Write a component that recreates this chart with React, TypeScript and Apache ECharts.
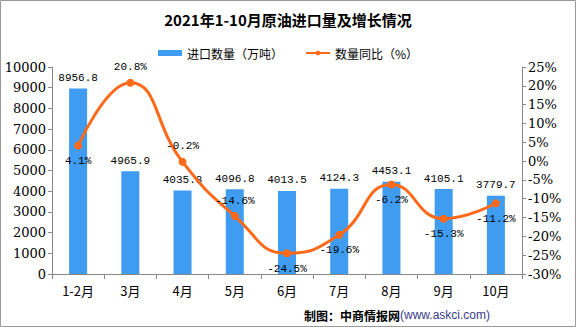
import React, { useEffect, useRef } from "react";
import * as echarts from "echarts";

const categories = ["1-2月", "3月", "4月", "5月", "6月", "7月", "8月", "9月", "10月"];
const importVolume = [8956.8, 4965.9, 4035.8, 4096.8, 4013.5, 4124.3, 4453.1, 4105.1, 3779.7];
const yoyGrowth = [4.1, 20.8, -0.2, -14.6, -24.5, -19.6, -6.2, -15.3, -11.2];
const growthLabelPos = ["bottom", "top", "top", "top", "bottom", "bottom", "bottom", "bottom", "bottom"];

const serif = "'DejaVu Serif', 'Noto Sans CJK SC', serif";
const mono = "'Liberation Mono', 'DejaVu Sans Mono', monospace";
const cjk = "'Noto Sans CJK SC', sans-serif";

export default function App() {
  const ref = useRef<HTMLDivElement>(null);
  useEffect(() => {
    document.body.style.margin = "0";
    const chart = echarts.init(ref.current!, null, { renderer: "svg" });
    chart.setOption({
      animation: false,
      backgroundColor: "#fff",
      title: {
        text: "2021年1-10月原油进口量及增长情况",
        left: "center",
        top: 7,
        textStyle: { fontFamily: cjk, fontWeight: "bold", fontSize: 15, color: "#000" },
      },
      legend: {
        top: 42,
        left: "center",
        itemGap: 22,
        itemWidth: 24,
        itemHeight: 6,
        textStyle: { fontFamily: cjk, fontSize: 12, color: "#000" },
        data: [
          { name: "进口数量（万吨）", icon: "rect" },
          { name: "数量同比（%）" },
        ],
      },
      grid: { left: 52, right: 54, top: 67, bottom: 53 },
      xAxis: {
        type: "category",
        data: categories,
        axisLine: { lineStyle: { color: "#888" } },
        axisTick: { show: true, alignWithLabel: false, length: 5, lineStyle: { color: "#888" } },
        axisLabel: { color: "#000", fontSize: 13, fontFamily: cjk, margin: 10 },
      },
      yAxis: [
        {
          type: "value",
          min: 0,
          max: 10000,
          interval: 1000,
          splitLine: { show: false },
          axisLine: { show: true, lineStyle: { color: "#888" } },
          axisTick: { show: true, length: 4, lineStyle: { color: "#888" } },
          axisLabel: {
            color: "#000",
            fontSize: 13,
            fontFamily: serif,
            margin: 6,
            formatter: (v: number) => String(v),
          },
        },
        {
          type: "value",
          min: -30,
          max: 25,
          interval: 5,
          splitLine: { show: false },
          axisLine: { show: true, lineStyle: { color: "#888" } },
          axisTick: { show: true, length: 4, lineStyle: { color: "#888" } },
          axisLabel: { color: "#000", fontSize: 13, fontFamily: serif, formatter: "{value}%", margin: 6 },
        },
      ],
      series: [
        {
          name: "进口数量（万吨）",
          type: "bar",
          data: importVolume,
          barWidth: 18,
          itemStyle: { color: "#3F9CF0" },
          label: {
            show: true,
            position: "top",
            distance: 5,
            color: "#000",
            fontSize: 11,
            fontFamily: mono,
            formatter: (p: any) => p.value.toFixed(1),
          },
        },
        {
          name: "数量同比（%）",
          type: "line",
          yAxisIndex: 1,
          smooth: true,
          data: yoyGrowth.map((v, i) => ({
            value: v,
            label: { position: growthLabelPos[i] },
          })),
          symbol: "circle",
          symbolSize: 8,
          lineStyle: { color: "#FF6A1A", width: 3 },
          itemStyle: { color: "#FF6A1A" },
          label: {
            show: true,
            color: "#000",
            fontSize: 11,
            fontFamily: mono,
            distance: 6,
            formatter: (p: any) => p.value.toFixed(1) + "%",
          },
        },
      ],
      graphic: [
        {
          type: "rect",
          shape: { x: 0.5, y: 0.5, width: 575, height: 326 },
          style: { fill: "none", stroke: "#999", lineWidth: 1 },
          silent: true,
          z: 100,
        },
        {
          type: "text",
          right: 86,
          top: 309,
          z: 100,
          style: {
            text: "{a|制图：中商情报网}{b|(www.askci.com)}",
            rich: {
              a: { fill: "#000", fontFamily: cjk, fontWeight: "bold", fontSize: 12 },
              b: { fill: "#3a3a8a", fontFamily: "'Liberation Sans', Arial, sans-serif", fontSize: 12 },
            },
          },
        },
      ],
    });
    return () => chart.dispose();
  }, []);
  return <div ref={ref} style={{ width: 576, height: 327, position: "absolute", left: 0, top: 0 }} />;
}
